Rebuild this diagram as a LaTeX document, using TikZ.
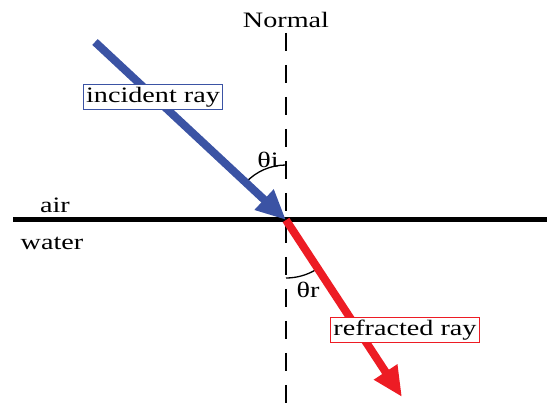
\documentclass[tikz,border=0pt]{standalone}
\usepackage{fontspec}
\setmainfont{Liberation Serif}[FakeStretch=1.28]
\usetikzlibrary{arrows.meta,positioning}

\definecolor{incblue}{RGB}{59,83,164}
\definecolor{refred}{RGB}{237,28,36}

\begin{document}
\begin{tikzpicture}[
  x=1pt, y=1pt,
  ray/.style={line width=8pt, -{Triangle[length=30pt,width=26pt]}},
  raybox/.style={draw, fill=white, line width=1pt, inner sep=2.5pt, font=\fontsize{22}{26}\selectfont},
  lab/.style={font=\fontsize{22}{26}\selectfont, inner sep=0pt},
  angarc/.style={line width=1.3pt},
  normalline/.style={line width=2pt, dash pattern=on 18pt off 14pt}
]
  \useasboundingbox (0,0) rectangle (552,407);

  % points
  \coordinate (O) at (286,187);
  \coordinate (IS) at (95,365);
  \coordinate (RE) at (402,10);
  \coordinate (SL) at (13,187);
  \coordinate (SR) at (547,187);
  \coordinate (NT) at (286,374);
  \coordinate (NB) at (286,0);

  % normal and surface
  \draw[normalline] (NT) -- (NB);
  \draw[line width=5pt] (SL) -- (SR);

  % angle arcs
  \draw[angarc] (O) ++(90:55) arc[start angle=90, end angle=137, radius=55];
  \draw[angarc] (O) ++(270:58) arc[start angle=270, end angle=301, radius=58];

  % rays
  \draw[ray, incblue] (IS) -- (O);
  \draw[ray, refred] (O) -- (RE);

  % labels
  \node[lab] (normal) at (286,387) {Normal};
  \node[raybox, draw=incblue] (incident) at (153,310) {incident ray};
  \node[raybox, draw=refred] (refracted) at (405,77) {refracted ray};
  \node[lab] (thetai) at (268,247) {θi};
  \node[lab] (thetar) at (308,117) {θr};
  \node[lab] (air) at (55,202) {air};
  \node[lab] (water) at (52,164) {water};
\end{tikzpicture}
\end{document}
